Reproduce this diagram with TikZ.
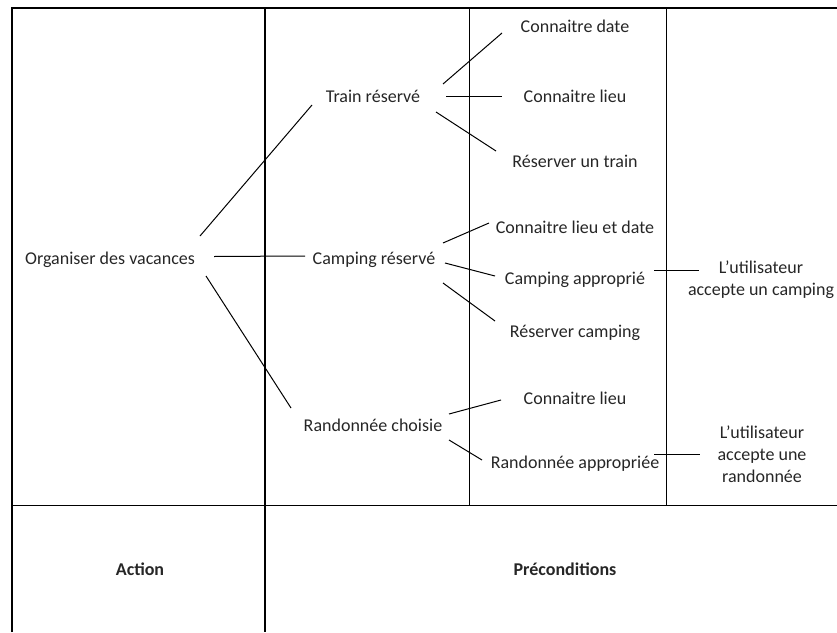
\documentclass[tikz,border=0pt]{standalone}
\usepackage{fontspec}
\setmainfont{Carlito}
\begin{document}
\begin{tikzpicture}[x=1pt,y=-1pt,
  lbl/.style={font=\fontsize{18}{22}\selectfont, inner sep=0pt, align=center, text=black!85},
  hdr/.style={lbl, font=\fontsize{18}{22}\selectfont\bfseries},
  frame/.style={line width=2pt},
  grid/.style={line width=1.3pt},
  link/.style={line width=1pt}]
\useasboundingbox (0,0) rectangle (837,632);
% table
\draw[frame] (12,632) -- (12,8) -- (837,8);
\draw[grid] (265,8) -- (265,632);
\draw[grid] (469.5,8) -- (469.5,505.5);
\draw[grid] (666.5,8) -- (666.5,505.5);
\draw[grid] (12,505.5) -- (837,505.5);
% nodes
\node[lbl] (org) at (110,260) {Organiser des vacances};
\node[lbl] (train) at (373,96) {Train réservé};
\node[lbl] (camp) at (374,260) {Camping réservé};
\node[lbl] (rando) at (373,425) {Randonnée choisie};
\node[lbl] (cdate) at (575,26) {Connaitre date};
\node[lbl] (clieu) at (575,96) {Connaitre lieu};
\node[lbl] (rtrain) at (575,161) {Réserver un train};
\node[lbl] (cld) at (575,227) {Connaitre lieu et date};
\node[lbl] (capp) at (575,280) {Camping approprié};
\node[lbl] (rcamp) at (575,333) {Réserver camping};
\node[lbl] (clieub) at (575,398) {Connaitre lieu};
\node[lbl] (rapp) at (575,464) {Randonnée appropriée};
\node[lbl] (ucamp) at (761,280) {L’utilisateur\\accepte un camping};
\node[lbl] (urando) at (762,454) {L’utilisateur\\accepte une\\randonnée};
\node[hdr] (action) at (140,569) {Action};
\node[hdr] (precond) at (565,569) {Préconditions};
% connector end points
\coordinate (o1) at (200,236);   \coordinate (t1) at (312,105);
\coordinate (o2) at (214,256.5); \coordinate (c1) at (305,256);
\coordinate (o3) at (206,276);   \coordinate (r1) at (291,408);
\coordinate (t2) at (443,84);    \coordinate (cd) at (502,33);
\coordinate (t3) at (446,96);    \coordinate (cl) at (502,96);
\coordinate (t4) at (436,112);   \coordinate (rt) at (496,151);
\coordinate (c2) at (443,243);   \coordinate (cldp) at (489,223);
\coordinate (c3) at (445,263);   \coordinate (cap) at (495,276);
\coordinate (c4) at (443,283);   \coordinate (rcp) at (495,321);
\coordinate (r2) at (449,414);   \coordinate (clb) at (501,400);
\coordinate (r3) at (449,440);   \coordinate (rap) at (482,460);
\coordinate (ca) at (654,270);   \coordinate (uc) at (699,270);
\coordinate (ra) at (654,454);   \coordinate (ur) at (700,454);
% connectors
\draw[link] (o1) -- (t1);
\draw[link] (o2) -- (c1);
\draw[link] (o3) -- (r1);
\draw[link] (t2) -- (cd);
\draw[link] (t3) -- (cl);
\draw[link] (t4) -- (rt);
\draw[link] (c2) -- (cldp);
\draw[link] (c3) -- (cap);
\draw[link] (c4) -- (rcp);
\draw[link] (r2) -- (clb);
\draw[link] (r3) -- (rap);
\draw[link] (ca) -- (uc);
\draw[link] (ra) -- (ur);
\end{tikzpicture}
\end{document}
